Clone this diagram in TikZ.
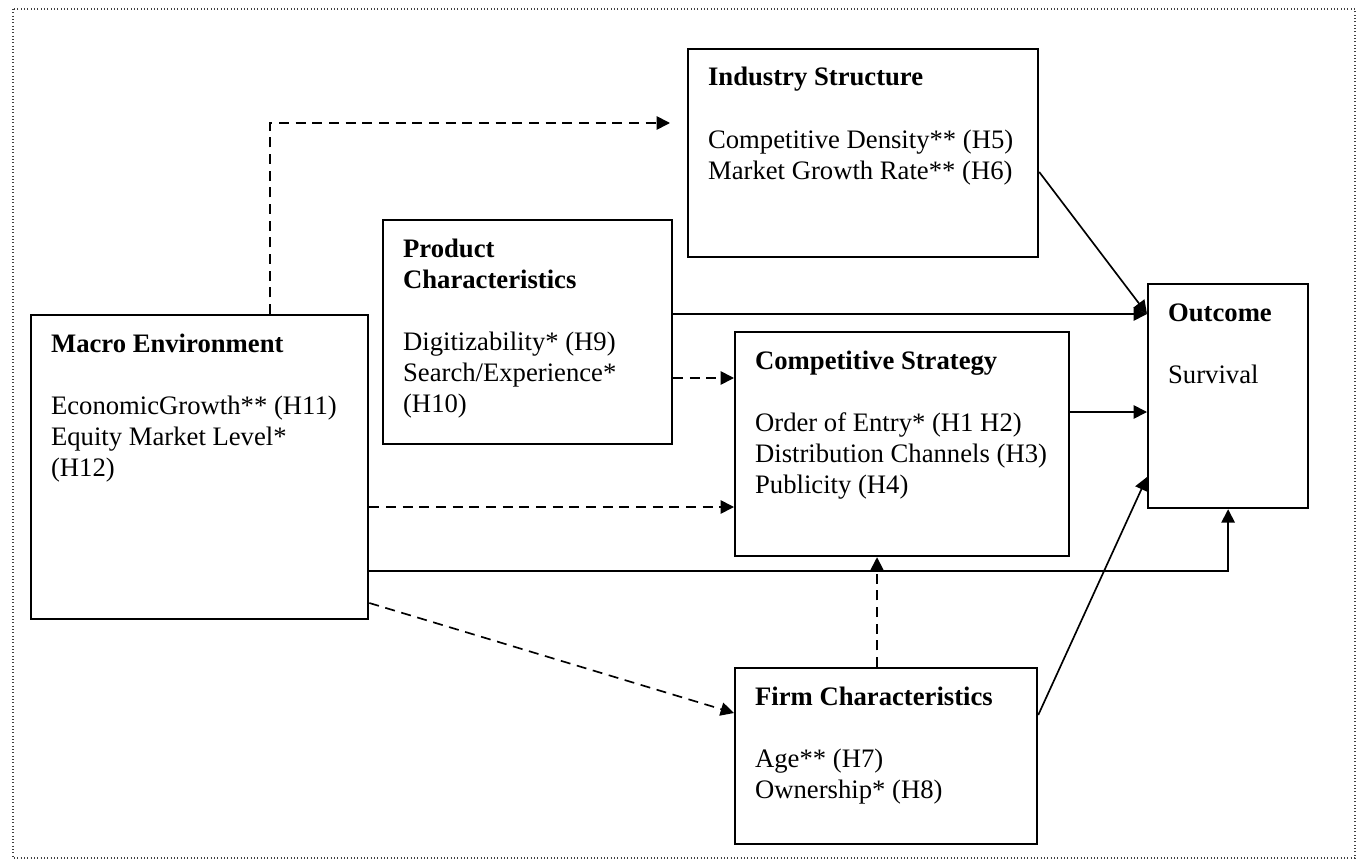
\documentclass[tikz,border=0pt]{standalone}
\usepackage{fontspec}
\setmainfont{Liberation Serif}
\usetikzlibrary{arrows.meta}

\tikzset{
  blk/.style={draw, line width=1pt, anchor=north west, inner xsep=9pt,
    inner ysep=6.8pt, align=left, font=\fontsize{12}{14}\selectfont},
  arr/.style={line width=0.75pt, -{Triangle[length=6pt,width=6pt]}},
  darr/.style={arr, dash pattern=on 4.5pt off 3pt}
}
\newcommand{\blkbody}[4]{\parbox[t][#2][t]{#1}{\strut\textbf{#3}\\[14pt]#4}}

\begin{document}
\begin{tikzpicture}
[x=0.45pt,y=-0.45pt]
% frame
\useasboundingbox (0,0) rectangle (1364,860);
\draw[densely dotted, line width=0.5pt, black!75] (13,9) rectangle (1355,858);

% Nodes of the diagram
\node(ind)[blk] at (687,48) {\blkbody{139.5pt}{80pt}{Industry Structure}{Competitive Density** (H5)\\Market Growth Rate** (H6)}};

\node(prod)[blk] at (382,219) {\blkbody{112pt}{87.2pt}{Product\\Characteristics}{Digitizability* (H9)\\Search/Experience*\\(H10)}};

\node(mac)[blk] at (30,314) {\blkbody{133.7pt}{123.2pt}{Macro Environment}{EconomicGrowth** (H11)\\Equity Market Level*\\(H12)}};

\node(cs)[blk] at (734,331) {\blkbody{132.3pt}{87.2pt}{Competitive Strategy}{Order of Entry* (H1 H2)\\Distribution Channels (H3)\\Publicity (H4)}};

\node(out)[blk] at (1147,283) {\blkbody{54pt}{87.2pt}{Outcome}{Survival}};

\node(firm)[blk] at (734,667) {\blkbody{117.9pt}{65.6pt}{Firm Characteristics}{Age** (H7)\\Ownership* (H8)}};

\coordinate (indin) at (670,123);

% connectors
\draw[darr] (mac.north -| 270,0) |- (indin);
\draw[arr]  (ind.east |- 0,172) -- (out.west |- 0,314);
\draw[arr]  (prod.east |- 0,314) -- (out.west |- 0,314);
\draw[darr] (prod.east |- 0,378) -- (cs.west |- 0,378);
\draw[arr]  (cs.east |- 0,412) -- (out.west |- 0,412);
\draw[darr] (mac.east |- 0,507) -- (cs.west |- 0,507);
\draw[arr]  (mac.east |- 0,571) -| (out.south);
\draw[darr] (mac.east |- 0,603) -- (firm.west |- 0,713);
\draw[darr] (firm.north -| 877,0) -- (cs.south -| 877,0);
\draw[arr]  (firm.east |- 0,715) -- (out.west |- 0,477);
\end{tikzpicture}
\end{document}
